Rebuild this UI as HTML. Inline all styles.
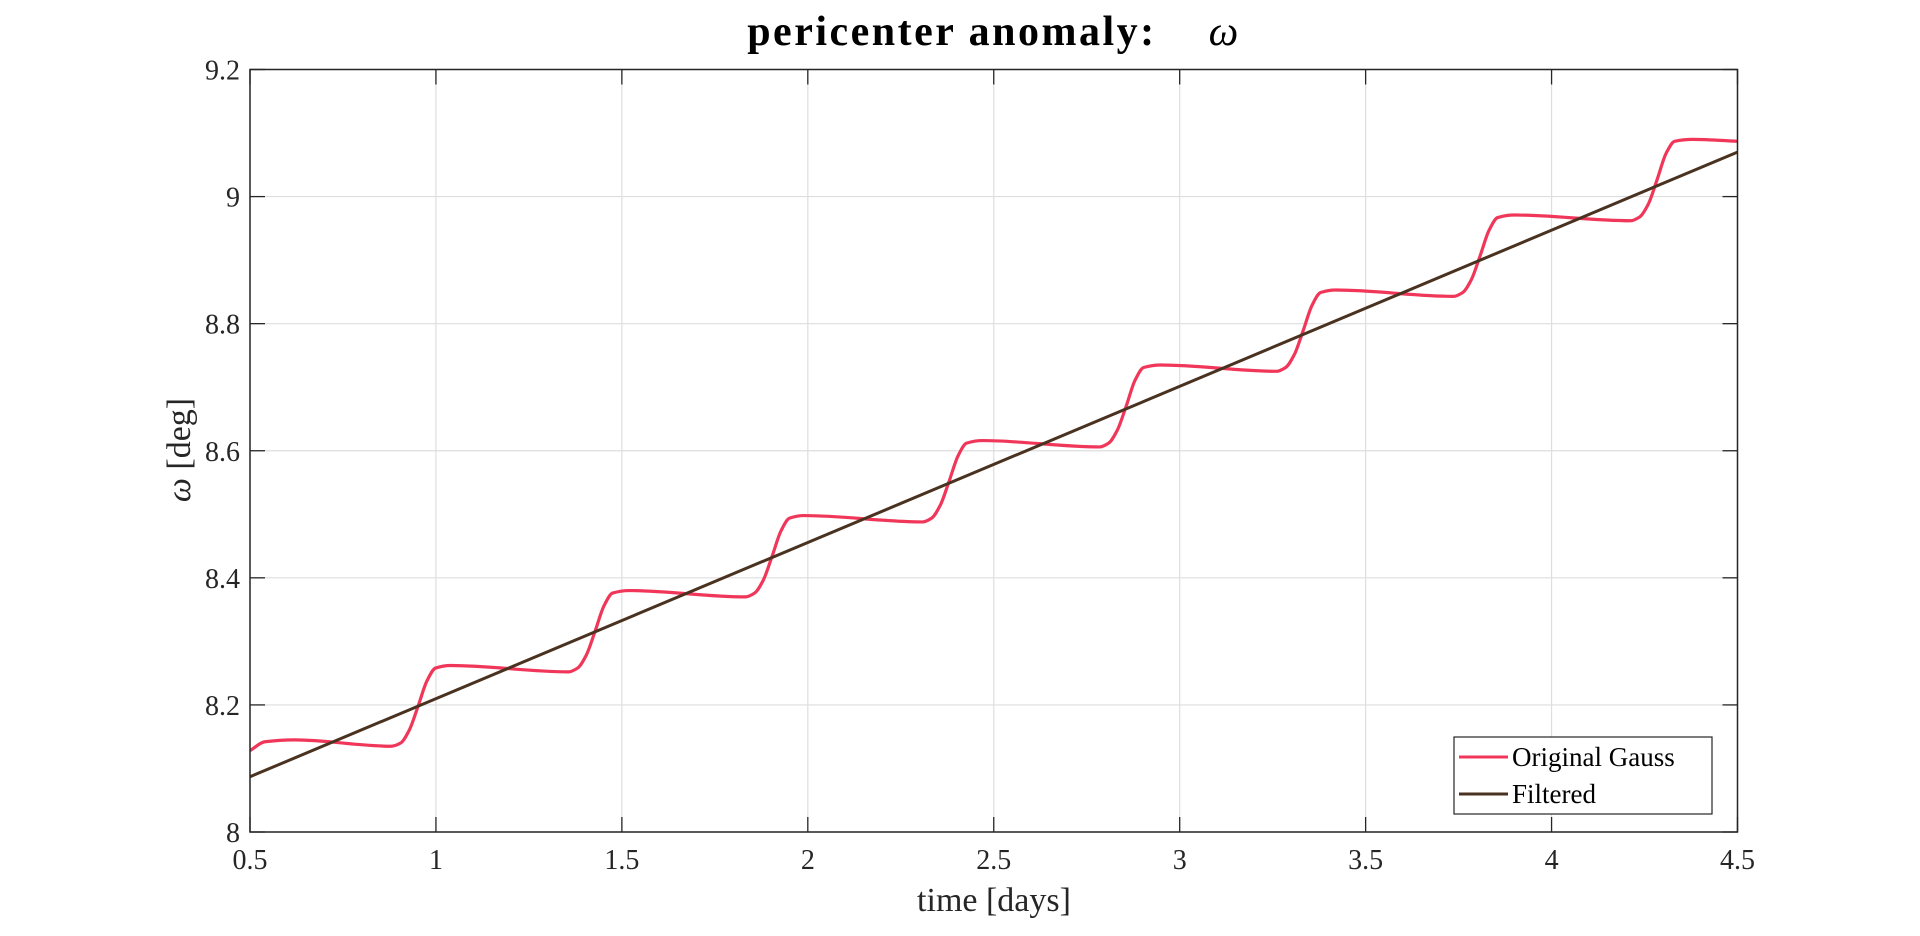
<!DOCTYPE html>
<html><head><meta charset="utf-8"><style>
html,body{margin:0;padding:0;background:#fff;}
svg{display:block;font-family:"Liberation Serif","DejaVu Serif",serif;}
</style></head><body>
<svg id="chart" width="1920" height="936" viewBox="0 0 1920 936">
<rect width="1920" height="936" fill="#fff"/>
<text x="994" y="45" text-anchor="middle" font-size="42" font-weight="bold" letter-spacing="2.5" fill="#000">pericenter anomaly:&#160;&#160;&#160;&#160;<tspan font-style="italic" font-weight="normal">ω</tspan></text>
<g id="grid"></g>
<g id="ticks"></g>
<g id="series"></g>
<rect x="250" y="69.5" width="1487.5" height="762.5" fill="none" stroke="#262626" stroke-width="1.5"/>
<text x="994" y="911" text-anchor="middle" font-size="34" fill="#262626">time [days]</text>
<text transform="translate(190,450) rotate(-90)" text-anchor="middle" font-size="34" fill="#262626"><tspan font-style="italic">ω</tspan> [deg]</text>
<g>
<rect x="1454" y="737" width="258" height="77" fill="#fff" stroke="#262626" stroke-width="1.2"/>
<line x1="1459" y1="757" x2="1508" y2="757" stroke="#f0375a" stroke-width="3"/>
<text x="1512" y="766" font-size="27" fill="#000">Original Gauss</text>
<line x1="1459" y1="794" x2="1508" y2="794" stroke="#4a3220" stroke-width="3"/>
<text x="1512" y="803" font-size="27" fill="#000">Filtered</text>
</g>
</svg>
<script>
const xTicks=[0.5,1,1.5,2,2.5,3,3.5,4,4.5];
const xTickLabels=["0.5","1","1.5","2","2.5","3","3.5","4","4.5"];
const yTicks=[8,8.2,8.4,8.6,8.8,9,9.2];
const yTickLabels=["8","8.2","8.4","8.6","8.8","9","9.2"];
const origT=[0.50,0.54,0.62,0.880,0.905,0.928,0.952,0.976,0.999,1.04,1.356,1.381,1.404,1.428,1.452,1.475,1.52,1.832,1.857,1.880,1.904,1.928,1.951,1.99,2.308,2.333,2.356,2.380,2.404,2.427,2.47,2.784,2.809,2.832,2.856,2.880,2.903,2.95,3.260,3.285,3.308,3.332,3.356,3.379,3.42,3.736,3.761,3.784,3.808,3.832,3.855,3.90,4.212,4.237,4.260,4.284,4.308,4.331,4.38,4.5];
const origV=[8.128,8.142,8.145,8.135,8.140,8.160,8.198,8.238,8.258,8.262,8.252,8.258,8.278,8.316,8.356,8.376,8.380,8.370,8.376,8.396,8.434,8.474,8.494,8.498,8.488,8.494,8.514,8.552,8.592,8.612,8.616,8.606,8.612,8.632,8.670,8.711,8.731,8.735,8.725,8.731,8.751,8.789,8.829,8.849,8.853,8.843,8.849,8.869,8.907,8.947,8.967,8.971,8.962,8.968,8.988,9.027,9.068,9.087,9.090,9.087];
const filtT=[0.5,4.5];
const filtV=[8.087,9.070];
const X0=250,X1=1737.5,Y0=832,Y1=69.5;
const sx=t=>X0+(t-0.5)/(4.5-0.5)*(X1-X0);
const sy=v=>Y0-(v-8)/(9.2-8)*(Y0-Y1);
const NS="http://www.w3.org/2000/svg";
const mk=(tag,attrs,parent)=>{const e=document.createElementNS(NS,tag);for(const k in attrs)e.setAttribute(k,attrs[k]);parent.appendChild(e);return e;};
const grid=document.getElementById('grid'),ticks=document.getElementById('ticks'),series=document.getElementById('series');
xTicks.forEach((t,i)=>{
  const x=sx(t);
  const g=mk('line',{x1:x,y1:Y1,x2:x,y2:Y0,stroke:'#dedede','stroke-width':1.2},grid);
  
  
  const a=mk('line',{x1:x,y1:Y0,x2:x,y2:Y0-15,stroke:'#262626','stroke-width':1.3},ticks);
  
  
  const b=mk('line',{x1:x,y1:Y1,x2:x,y2:Y1+15,stroke:'#262626','stroke-width':1.3},ticks);
  
  
  const l=mk('text',{x:x,y:Y0+37,'text-anchor':'middle','font-size':28,fill:'#262626'},ticks);
  l.textContent=xTickLabels[i];
  
  
});
yTicks.forEach((v,i)=>{
  const y=sy(v);
  const g=mk('line',{x1:X0,y1:y,x2:X1,y2:y,stroke:'#dedede','stroke-width':1.2},grid);
  
  
  const a=mk('line',{x1:X0,y1:y,x2:X0+15,y2:y,stroke:'#262626','stroke-width':1.3},ticks);
  
  
  const b=mk('line',{x1:X1,y1:y,x2:X1-15,y2:y,stroke:'#262626','stroke-width':1.3},ticks);
  
  
  const l=mk('text',{x:X0-10,y:y+10,'text-anchor':'end','font-size':28,fill:'#262626'},ticks);
  l.textContent=yTickLabels[i];
  
  
});
function monotonePath(ts,vs){
  const n=ts.length,d=[],m=new Array(n);
  for(let i=0;i<n-1;i++)d.push((vs[i+1]-vs[i])/(ts[i+1]-ts[i]));
  m[0]=d[0];m[n-1]=d[n-2];
  for(let i=1;i<n-1;i++){
    if(d[i-1]*d[i]<=0)m[i]=0;
    else{const h0=ts[i]-ts[i-1],h1=ts[i+1]-ts[i];const w1=2*h1+h0,w2=h1+2*h0;m[i]=(w1+w2)/(w1/d[i-1]+w2/d[i]);}
  }
  let path='M'+sx(ts[0])+','+sy(vs[0]);
  for(let i=0;i<n-1;i++){
    const h=ts[i+1]-ts[i];
    const c1t=ts[i]+h/3,c1v=vs[i]+m[i]*h/3;
    const c2t=ts[i+1]-h/3,c2v=vs[i+1]-m[i+1]*h/3;
    path+=' C'+sx(c1t)+','+sy(c1v)+' '+sx(c2t)+','+sy(c2v)+' '+sx(ts[i+1])+','+sy(vs[i+1]);
  }
  return path;
}
const o=mk('path',{d:monotonePath(origT,origV),fill:'none',stroke:'#f0375a','stroke-width':3.2,'stroke-linejoin':'round'},series);


const f=mk('path',{d:'M'+filtT.map((t,i)=>sx(t)+','+sy(filtV[i])).join(' L'),fill:'none',stroke:'#4a3220','stroke-width':3},series);


</script>
</body></html>
